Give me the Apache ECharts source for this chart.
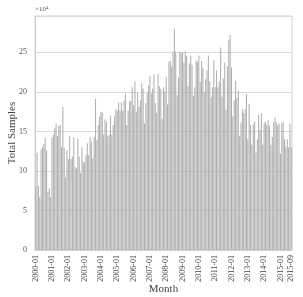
<!DOCTYPE html>
<html>
<head>
<meta charset="utf-8">
<script src="https://cdn.jsdelivr.net/npm/echarts@6/dist/echarts.min.js"></script>
<style>html,body{margin:0;padding:0;background:#fff;}#c{width:303px;height:297px;}</style>
</head>
<body>
<div id="c"></div>
<script>
// months 2000-01 .. 2015-09
const months = [];
for (let y = 2000; y <= 2015; y++) {
  for (let m = 1; m <= 12; m++) {
    if (y === 2015 && m > 9) break;
    months.push(y + '-' + String(m).padStart(2, '0'));
  }
}
// Total samples (x 10^4)
const segA = [8.0,12.3,8.1,6.7,12.7,13.0,13.4,14.2,12.6,7.4,7.8,6.7,14.2,14.6,15.4,16.0,14.4,15.7,15.8,13.0,18.1];
const segB = [12.9,9.2,12.6,11.5,14.4,11.5,11.8,14.3,10.5,10.3,14.1,11.8,9.7,13.0,11.1,11.1,12.0,13.5,12.0,14.3,13.7,11.6,14.3,19.1];
const segC = [13.9,15.8,16.9,17.5,17.4,14.6,16.5,16.2,14.4,14.6,
  17.0,14.6,15.8,16.9,17.8,17.6,18.7,17.6,18.7,17.6,
  18.9,19.8,15.8,17.6,18.8,18.9,20.6,18.3,21.3,17.5,
  19.9,18.1,18.9,21.1,20.4,16.0,18.6,19.9,20.8,22.0,
  19.8,20.4,22.2,18.6,17.3,22.3,20.7,20.4,16.6,20.6];
const segD = [20.1,21.9,18.4,23.8,23.9,23.2,25.1,28.0,25.1,19.6,
  21.8,25.1,24.9,25.0,23.7,25.2,24.5,20.7,23.6,24.6,
  23.4,19.5,20.6,24.0,23.8,24.6,21.3,23.9,23.0,20.0,
  21.6,22.7,24.6,21.3,19.3,20.6,24.0,20.6,22.7,20.6,
  21.3,25.6,19.4,21.7,23.7,17.7,23.2,26.6,27.2];
const segE = [23.1,16.9,18.9,21.4,19.2,20.1,14.4,16.1,17.8,17.3,
  17.8,19.7,14.0,18.5,15.8,13.3,15.9,16.3,12.3,14.0,
  17.1,15.2,17.3,13.3,16.0,16.2,15.8,16.4,15.7,13.3,
  14.3,16.1,16.8,16.2,15.8,16.0,12.2,16.1,16.2,14.0,
  13.0,14.0,13.0,16.0,13.0];
const samples = segA.concat(segB, segC, segD, segE);
const yTicks = [0, 5, 10, 15, 20, 25];

const chart = echarts.init(document.getElementById('c'), null, {renderer: 'canvas'});
const serif = 'Liberation Serif';
chart.setOption({
  animation: false,
  backgroundColor: '#ffffff',
  grid: {left: 35, right: 11, top: 16, bottom: 47, show: true, borderColor: '#cfcfcf', borderWidth: 1,
         containLabel: false, outerBoundsMode: 'none'},
  graphic: [{
    type: 'text', left: 35, top: 5,
    style: {
      text: '×10{s|4}', fill: '#555', font: '7px "Liberation Serif"',
      rich: {s: {fontSize: 5, verticalAlign: 'top', fill: '#555', fontFamily: serif, padding: [0,0,3,0]}}
    }
  }],
  xAxis: {
    type: 'category', data: months,
    name: 'Month', nameLocation: 'middle', nameGap: 34, nameMoveOverlap: false,
    nameTextStyle: {fontFamily: serif, fontSize: 11, color: '#444'},
    axisLine: {show: true, lineStyle: {color: '#cfcfcf'}},
    axisTick: {show: false},
    axisLabel: {
      rotate: 90, fontFamily: serif, fontSize: 8, color: '#444', margin: 5,
      interval: function (i) { return i % 12 === 0 || i === months.length - 1; }
    }
  },
  yAxis: {
    type: 'value', min: 0, max: 29.6, interval: 5,
    name: 'Total Samples', nameLocation: 'middle', nameGap: 17, nameMoveOverlap: false,
    nameTextStyle: {fontFamily: serif, fontSize: 11, color: '#444'},
    axisLine: {show: true, lineStyle: {color: '#cfcfcf'}},
    axisTick: {show: false},
    splitLine: {show: true, lineStyle: {color: '#dadada', width: 1}},
    axisLabel: {
      fontFamily: serif, fontSize: 8, color: '#555', margin: 8,
      formatter: function (v) { return yTicks.indexOf(v) >= 0 ? String(v) : ''; },
      showMaxLabel: false
    }
  },
  series: [{
    type: 'bar', data: samples, barCategoryGap: '22%',
    itemStyle: {color: '#b0b0b0'}
  }]
});
</script>
</body>
</html>
